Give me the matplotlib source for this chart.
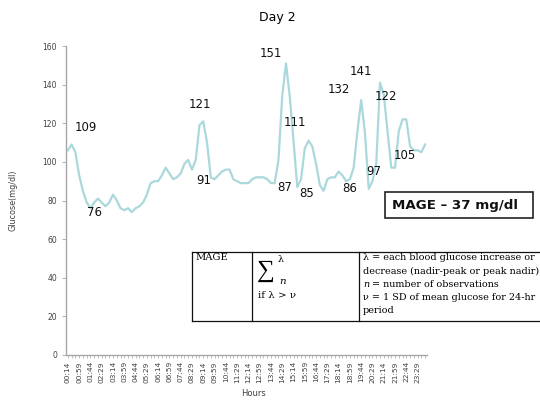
import matplotlib
matplotlib.use("Agg")
import matplotlib.pyplot as plt
from matplotlib.patches import Rectangle
from matplotlib.lines import Line2D
import numpy as np

# 15-minute CGM readings for day 2 (mg/dl), starting at 00:14
glucose = [106, 109, 105, 93, 85, 79, 76, 79, 81, 79, 77, 79, 83, 80, 76, 75,
           76, 74, 76, 77, 79, 83, 89, 90, 90, 93, 97, 94, 91, 92, 94, 99,
           101, 96, 101, 119, 121, 110, 92, 91, 93, 95, 96, 96, 91, 90, 89, 89,
           89, 91, 92, 92, 92, 91, 89, 89, 101, 134, 151, 134, 111, 87, 91, 107,
           111, 108, 99, 88, 85, 91, 92, 92, 95, 93, 90, 91, 97, 116, 132, 115,
           86, 90, 99, 141, 135, 116, 97, 97, 116, 122, 122, 108, 106, 106, 105, 109]

start_minute = 14
step_minutes = 15
times = [f"{(start_minute + k * step_minutes) // 60:02d}:{(start_minute + k * step_minutes) % 60:02d}"
         for k in range(len(glucose))]

# Peaks and nadirs that are labelled, with the label offset in pixels
labelled_points = [1, 6, 36, 39, 58, 60, 61, 68, 78, 80, 83, 86, 89, 94]
label_offsets = [(14, 17), (4, -4), (-3, 17), (-11, -1), (-15, 10), (1, 18), (-13, -1),
                 (-17, -3), (-22, 11), (-19, 0), (-19, 11), (-18, -4), (-17, 23), (-17, -3)]

y_ticks = [0, 20, 40, 60, 80, 100, 120, 140, 160]
mage_text = "MAGE \u2013 37 mg/dl"

W, H = 540, 400
fig = plt.figure(figsize=(W / 100, H / 100), dpi=100)
ax = fig.add_axes([66 / W, 1 - 355 / H, (427 - 66) / W, (355 - 46) / H])

x = np.arange(len(glucose))
ax.plot(x, glucose, color="#ABD8DC", lw=1.6, solid_joinstyle="round")

ax.set_xlim(-0.5, len(glucose) - 0.5)
ax.set_ylim(0, 160)
ax.set_yticks(y_ticks)
ax.tick_params(axis="y", labelsize=5.5, colors="#404040", length=3, width=0.6)
ax.set_xticks(x[::3])
ax.set_xticklabels(times[::3], rotation=90, fontsize=5.3, color="#404040")
ax.set_xticks(x, minor=True)
ax.tick_params(axis="x", which="both", length=2.5, width=0.5, color="#A6A6A6", pad=2)
ax.tick_params(axis="y", color="#A6A6A6")
for s in ("top", "right"):
    ax.spines[s].set_visible(False)
for s in ("left", "bottom"):
    ax.spines[s].set_color("#A6A6A6")
    ax.spines[s].set_linewidth(1.0)

for idx, (dx, dy) in zip(labelled_points, label_offsets):
    ax.annotate(f"{glucose[idx]}", xy=(idx, glucose[idx]), xytext=(dx, dy),
                textcoords="offset pixels", ha="center", va="center",
                fontsize=8.5, color="#111111")

fig.text(277 / W, 1 - 18 / H, "Day 2", ha="center", va="center", fontsize=9)
fig.text(13 / W, 1 - 200 / H, "Glucose(mg/dl)", rotation=90, ha="center", va="center",
         fontsize=5.8, color="#404040")
fig.text(253 / W, 1 - 393 / H, "Hours", ha="center", va="center", fontsize=6, color="#404040")

# MAGE result box
fig.patches.append(Rectangle((385 / W, 1 - 218 / H), (533 - 385) / W, (218 - 192) / H,
                             transform=fig.transFigure, fill=False, ec="#222222", lw=1.2))
fig.text(392 / W, 1 - 205.5 / H, mage_text, ha="left", va="center",
         fontsize=9.6, fontweight="bold", color="#111111")

# Definition table
serif = "DejaVu Serif"
top, bot = 252, 321
left, right = 192, 541
for (x0, y0, x1, y1) in [(left, top, right, top), (left, bot, right, bot),
                         (left, top, left, bot), (252, top, 252, bot), (359, top, 359, bot),
                         (right, top, right, bot)]:
    fig.lines.append(Line2D([x0 / W, x1 / W], [1 - y0 / H, 1 - y1 / H],
                            transform=fig.transFigure, color="#111111", lw=0.9))

fs = 6.9
fig.text(195 / W, 1 - 258 / H, "MAGE", fontsize=7.2, family=serif, va="center")
fig.text(257 / W, 1 - 271 / H, "\u2211", fontsize=18, family="Liberation Serif", va="center")
fig.text(278 / W, 1 - 260 / H, "\u03bb", fontsize=fs, family=serif, va="center")
fig.text(279 / W, 1 - 282 / H, "n", fontsize=7.4, family=serif, style="italic", va="center")
fig.text(258 / W, 1 - 295 / H, "if \u03bb > \u03bd", fontsize=7.4, family=serif, va="center")

rows = ["\u03bb = each blood glucose increase or",
        "decrease (nadir-peak or peak nadir)",
        None,
        "\u03bd = 1 SD of mean glucose for 24-hr",
        "period"]
for k, r in enumerate(rows):
    yy = 1 - (258 + 13.2 * k) / H
    if r is None:
        fig.text(363 / W, yy, "n", fontsize=fs, family=serif, style="italic", va="center")
        fig.text(369 / W, yy, " = number of observations", fontsize=fs, family=serif, va="center")
    else:
        fig.text(363 / W, yy, r, fontsize=fs, family=serif, va="center")

fig.savefig("out.png", dpi=100)
